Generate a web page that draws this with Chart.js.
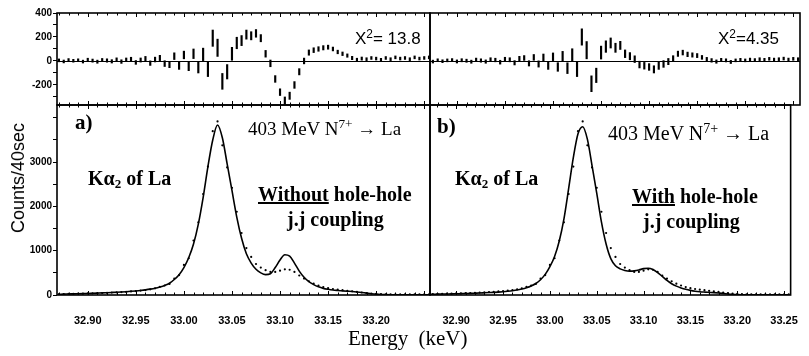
<!DOCTYPE html>
<html>
<head>
<meta charset="utf-8">
<script src="https://cdn.jsdelivr.net/npm/chart.js@4.4.1/dist/chart.umd.min.js"></script>
<style>
  body { margin: 0; background: #fff; }
  #wrap { position: relative; width: 809px; height: 356px; overflow: hidden; background: #fff; }
  #wrap canvas { position: absolute; left: 0; top: 0; }
  .t { position: absolute; white-space: nowrap; color: #000; line-height: 1; }
  .serif { font-family: "Liberation Serif", "Times New Roman", serif; }
  .sans { font-family: "Liberation Sans", Arial, sans-serif; }
  .b { font-weight: bold; }
  sup { font-size: 0.7em; vertical-align: 0.5em; line-height: 0; }
  sub { font-size: 0.65em; vertical-align: -0.2em; line-height: 0; }
</style>
</head>
<body>
<div id="wrap">
  <canvas id="top-a" width="809" height="356"></canvas>
  <canvas id="main-a" width="809" height="356"></canvas>
  <canvas id="top-b" width="809" height="356"></canvas>
  <canvas id="main-b" width="809" height="356"></canvas>

  <div class="t sans" style="left:355px; top:30px; font-size:17px;">X<sup>2</sup>= 13.8</div>
  <div class="t sans" style="left:718px; top:30px; font-size:17px;">X<sup>2</sup>=4.35</div>

  <div class="t serif b" style="left:75px; top:112px; font-size:21px;">a)</div>
  <div class="t serif" style="left:248px; top:119px; font-size:19px;">403 MeV N<sup>7+</sup> &rarr; La</div>
  <div class="t serif b" style="left:88px; top:168px; font-size:20px;">K&alpha;<sub>2</sub> of La</div>
  <div class="t serif b" style="left:258px; top:184px; font-size:20px;"><u>Without</u> hole-hole</div>
  <div class="t serif b" style="left:287px; top:209px; font-size:20px;">j.j coupling</div>

  <div class="t serif b" style="left:437px; top:116px; font-size:21px;">b)</div>
  <div class="t serif" style="left:608px; top:123px; font-size:20px;">403 MeV N<sup>7+</sup> &rarr; La</div>
  <div class="t serif b" style="left:455px; top:168px; font-size:20px;">K&alpha;<sub>2</sub> of La</div>
  <div class="t serif b" style="left:632px; top:186px; font-size:20px;"><u>With</u> hole-hole</div>
  <div class="t serif b" style="left:643px; top:211px; font-size:20px;">j.j coupling</div>

  <div class="t sans" style="left:18px; top:178px; font-size:18px; transform:translate(-50%,-50%) rotate(-90deg);">Counts/40sec</div>
  <div class="t serif" style="left:348px; top:328px; font-size:21px; word-spacing:5px;">Energy (keV)</div>
</div>

<script>
// Channel energies (keV)
const energy = [
  32.870, 32.875, 32.880, 32.885, 32.890, 32.895, 32.900, 32.905, 32.910, 32.915,
  32.920, 32.925, 32.930, 32.935, 32.940, 32.945, 32.950, 32.955, 32.960, 32.965,
  32.970, 32.975, 32.980, 32.985, 32.990, 32.995, 33.000, 33.005, 33.010, 33.015,
  33.020, 33.025, 33.030, 33.035, 33.040, 33.045, 33.050, 33.055, 33.060, 33.065,
  33.070, 33.075, 33.080, 33.085, 33.090, 33.095, 33.100, 33.105, 33.110, 33.115,
  33.120, 33.125, 33.130, 33.135, 33.140, 33.145, 33.150, 33.155, 33.160, 33.165,
  33.170, 33.175, 33.180, 33.185, 33.190, 33.195, 33.200, 33.205, 33.210, 33.215,
  33.220, 33.225, 33.230, 33.235, 33.240, 33.245, 33.250, 33.255
];

// Measured counts (same spectrum in both panels)
const counts = [
  20, 22, 28, 26, 32, 30, 38, 36, 42, 45,
  50, 55, 58, 66, 70, 80, 88, 100, 112, 128,
  150, 185, 215, 250, 370, 450, 680, 830, 1230, 1640,
  2280, 2900, 3700, 3920, 3380, 2880, 2420, 1880, 1400, 1060,
  860, 700, 620, 560, 520, 520, 550, 580, 570, 520,
  440, 370, 310, 255, 215, 180, 155, 135, 120, 108,
  95, 82, 70, 56, 44, 34, 26, 20, 17, 15,
  14, 13, 12, 14, 13, 15, 14, 13
];

// Statistical error on each channel
const countErr = [
  12, 12, 12, 12, 12, 12, 13, 13, 13, 13,
  14, 14, 14, 15, 15, 16, 16, 17, 18, 19,
  20, 22, 24, 26, 28, 30, 32, 36, 40, 45,
  52, 60, 68, 72, 66, 60, 54, 48, 42, 38,
  34, 32, 30, 28, 28, 28, 28, 30, 30, 28,
  26, 24, 22, 20, 19, 18, 17, 16, 15, 15,
  14, 14, 13, 13, 12, 12, 12, 12, 12, 12,
  12, 12, 12, 12, 12, 12, 12, 12
];

// Fit a) without hole-hole coupling
const fitWithout = [
  18, 20, 23, 26, 29, 32, 35, 39, 43, 47,
  52, 57, 62, 68, 75, 83, 92, 103, 116, 132,
  152, 180, 215, 265, 350, 460, 620, 840, 1150, 1600,
  2200, 2900, 3500, 3840, 3550, 2960, 2360, 1760, 1280, 930,
  720, 580, 500, 460, 480, 620, 790, 910, 880, 720,
  540, 400, 300, 235, 185, 150, 128, 112, 102, 94,
  86, 78, 68, 56, 42, 30, 20, 13, 9, 7,
  6, 6, 5, 5, 5, 5, 5, 5
];

// Fit b) with hole-hole coupling
const fitWith = [
  15, 17, 19, 21, 23, 25, 28, 31, 34, 37,
  41, 45, 50, 55, 60, 66, 74, 84, 96, 112,
  135, 165, 205, 260, 345, 465, 640, 870, 1220, 1720,
  2400, 3100, 3640, 3800, 3520, 2920, 2300, 1650, 1150, 820,
  660, 590, 555, 540, 545, 565, 595, 605, 575, 505,
  420, 330, 255, 200, 160, 128, 104, 86, 74, 66,
  60, 54, 46, 36, 24, 14, 8, 6, 5, 5,
  5, 5, 5, 5, 5, 5, 5, 5
];

// Residuals (data - fit)
const residWithout = [
  5, -4, 8, 2, 6, -5, 10, 3, -6, 8,
  4, -3, 12, -5, 10, 15, -12, 8, 20, -18,
  12, 25, -22, -30, 40, -40, 50, -45, 60, -55,
  55, -70, 190, 110, -170, -90, 60, 150, 170, 220,
  210, 230, 190, 60, -20, -150, -260, -330, -290, -200,
  -90, 0, 70, 90, 100, 110, 115, 100, 75, 60,
  45, 25, 10, 20, 15, 25, 20, 10, 25, 15,
  30, 20, 25, 15, 30, 20, 25, 30
];
const residWith = [
  3, -5, 6, -2, 5, 8, -4, 6, 2, -6,
  10, 4, -5, 12, 8, -10, 15, 10, -15, 20,
  25, -20, 30, -25, 30, -40, 35, -50, 40, -60,
  50, -70, 200, 90, -190, -120, 70, 120, 150, 110,
  130, 60, 40, 15, -30, -40, -50, -70, -40, -25,
  -5, 20, 60, 70, 55, 50, 45, 30, 15, 5,
  -5, 8, 5, -8, 5, 10, 5, 12, 8, 15,
  10, 18, 12, 15, 20, 12, 18, 15
];

// Tick positions and labels
const energyLabelsA = ['32.90', '32.95', '33.00', '33.05', '33.10', '33.15', '33.20'];
const energyLabelsB = ['32.90', '32.95', '33.00', '33.05', '33.10', '33.15', '33.20', '33.25'];
const countTicks = [0, 500, 1000, 1500, 2000, 2500, 3000, 3500, 4000];
const countLabels = [0, 1000, 2000, 3000];
const residTicks = [-300, -200, -100, 0, 100, 200, 300, 400];
const residLabels = [400, 200, 0, -200];

const tickFont = { family: '"Liberation Sans", Arial, sans-serif', size: 10, weight: 'bold' };

// Frame around the plot area, small inward ticks on top/bottom edges, zero line for residuals
const framePlugin = {
  id: 'frame',
  afterDraw(chart, args, opts) {
    const { ctx, chartArea: a, scales } = chart;
    const x = scales.x;
    ctx.save();
    ctx.strokeStyle = '#000';
    if (opts.zeroLine) {
      const y0 = Math.round(scales.y.getPixelForValue(0)) + 0.5;
      ctx.lineWidth = 1;
      ctx.beginPath();
      ctx.moveTo(a.left, y0); ctx.lineTo(a.right, y0);
      ctx.stroke();
    }
    ctx.lineWidth = 1.6;
    ctx.strokeRect(a.left, a.top, a.right - a.left, a.bottom - a.top);
    ctx.lineWidth = 1;
    ctx.beginPath();
    for (let k = Math.ceil(x.min * 100); k <= Math.floor(x.max * 100); k++) {
      const px = Math.round(x.getPixelForValue(k / 100)) + 0.5;
      const len = k % 5 === 0 ? 4 : 2.5;
      ctx.moveTo(px, a.bottom); ctx.lineTo(px, a.bottom - len);
      ctx.moveTo(px, a.top); ctx.lineTo(px, a.top + len);
    }
    ctx.stroke();
    ctx.restore();
  }
};

const colA = { padLeft: 0, padRight: 379, min: 32.868, max: 33.256, yAxis: true, labels: energyLabelsA };
const colB = { padLeft: 430, padRight: 9, min: 32.872, max: 33.257, yAxis: false, labels: energyLabelsB };

function residualChart(id, col, resid) {
  return new Chart(document.getElementById(id), {
    type: 'bar',
    data: {
      datasets: [{
        data: energy.map((e, i) => ({ x: e, y: [resid[i] - countErr[i], resid[i] + countErr[i]] })),
        backgroundColor: '#000',
        barThickness: 1.5
      }]
    },
    options: {
      responsive: false,
      animation: false,
      layout: { autoPadding: false, padding: { left: col.padLeft, right: col.padRight, top: 13, bottom: 251 } },
      plugins: { legend: { display: false }, tooltip: { enabled: false }, frame: { zeroLine: true } },
      scales: {
        x: { type: 'linear', min: col.min, max: col.max, offset: false, display: false },
        y: {
          min: -367, max: 400,
          display: col.yAxis,
          afterFit: s => { s.width = col.yAxis ? 57 : 0; },
          afterBuildTicks: s => { s.ticks = residTicks.map(v => ({ value: v })); },
          border: { display: false },
          grid: { drawOnChartArea: false, tickLength: 4, tickColor: '#000' },
          ticks: {
            autoSkip: false, color: '#000', font: tickFont, padding: 1,
            callback: v => (residLabels.includes(v) ? String(v) : '')
          }
        }
      }
    },
    plugins: [framePlugin]
  });
}

function mainChart(id, col, fit) {
  return new Chart(document.getElementById(id), {
    type: 'line',
    data: {
      datasets: [
        {
          data: energy.map((e, i) => ({ x: e, y: counts[i] })),
          showLine: false,
          pointRadius: 1.1,
          pointBackgroundColor: '#000',
          pointBorderWidth: 0
        },
        {
          data: energy.map((e, i) => ({ x: e, y: fit[i] })),
          borderColor: '#000',
          borderWidth: 1.6,
          pointRadius: 0,
          cubicInterpolationMode: 'monotone'
        }
      ]
    },
    options: {
      responsive: false,
      animation: false,
      layout: { autoPadding: false, padding: { left: col.padLeft, right: col.padRight, top: 105, bottom: 31 } },
      plugins: { legend: { display: false }, tooltip: { enabled: false }, frame: { zeroLine: false } },
      scales: {
        x: {
          type: 'linear', min: col.min, max: col.max,
          afterFit: s => { s.height = 30; },
          border: { display: false },
          grid: { display: false },
          ticks: {
            stepSize: 0.05, includeBounds: false, color: '#000', font: { ...tickFont, size: 11 }, padding: 11,
            maxRotation: 0, autoSkip: false,
            callback: v => { const s = v.toFixed(2); return col.labels.includes(s) ? s : ''; }
          }
        },
        y: {
          min: 0, max: 4290,
          display: col.yAxis,
          afterFit: s => { s.width = col.yAxis ? 57 : 0; },
          afterBuildTicks: s => { s.ticks = countTicks.map(v => ({ value: v })); },
          border: { display: false },
          grid: { drawOnChartArea: false, tickLength: 4, tickColor: '#000' },
          ticks: {
            autoSkip: false, color: '#000', font: tickFont, padding: 1,
            callback: v => (countLabels.includes(v) ? String(v) : '')
          }
        }
      }
    },
    plugins: [framePlugin]
  });
}

residualChart('top-a', colA, residWithout);
mainChart('main-a', colA, fitWithout);
residualChart('top-b', colB, residWith);
mainChart('main-b', colB, fitWith);
</script>
</body>
</html>
